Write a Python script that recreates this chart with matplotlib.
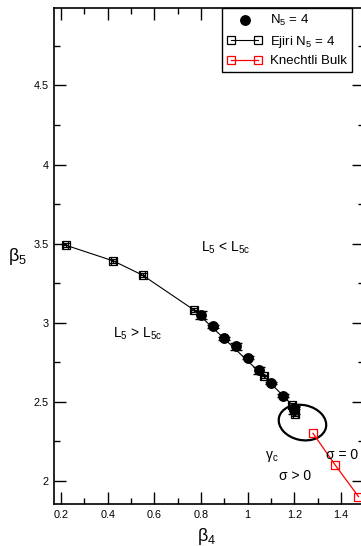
import matplotlib
matplotlib.use("Agg")
import matplotlib.pyplot as plt
from matplotlib.lines import Line2D
from matplotlib.patches import Ellipse
from matplotlib.ticker import MultipleLocator
from matplotlib.transforms import ScaledTranslation
from matplotlib.legend_handler import HandlerLine2D

plt.rcParams['font.family'] = ['Liberation Sans', 'DejaVu Sans']
plt.rcParams['mathtext.fontset'] = 'custom'
plt.rcParams['mathtext.rm'] = 'Liberation Sans'
plt.rcParams['mathtext.it'] = 'Liberation Sans:italic'
plt.rcParams['mathtext.default'] = 'regular'

# N5 = 4 simulation points
n5_beta4 = [0.80, 0.85, 0.90, 0.95, 1.00, 1.05, 1.10, 1.15, 1.20, 1.20]
n5_beta5 = [3.050, 2.977, 2.900, 2.850, 2.778, 2.698, 2.618, 2.538, 2.462, 2.445]
n5_err = [0.024, 0.008, 0.008, 0.023, 0.008, 0.024, 0.008, 0.008, 0.010, 0.021]

# Ejiri N5 = 4 phase boundary
ejiri_beta4 = [0.22, 0.425, 0.55, 0.77, 1.07, 1.19, 1.205]
ejiri_beta5 = [3.49, 3.39, 3.30, 3.08, 2.66, 2.48, 2.42]
ejiri_xerr = [0.012, 0.012, 0.012, 0.012, 0.012, 0.012, 0.012]
ejiri_yerr = [0.012, 0.012, 0.012, 0.012, 0.012, 0.012, 0.012]

# Knechtli bulk transition line
bulk_beta4 = [1.28, 1.375, 1.475]
bulk_beta5 = [2.30, 2.10, 1.90]

W, H = 361, 546
fig = plt.figure(figsize=(W / 100, H / 100), dpi=100)
ax = fig.add_axes([54 / W, (H - 504) / H, (364.3 - 54) / W, (504 - 8) / H])

ax.errorbar(ejiri_beta4, ejiri_beta5, xerr=ejiri_xerr, yerr=ejiri_yerr,
            fmt='s', mfc='none', mec='black', ms=5.5, mew=0.9,
            ecolor='black', elinewidth=0.9, capsize=2.8, ls='-',
            color='black', lw=0.8, zorder=3)

ax.errorbar(n5_beta4, n5_beta5, yerr=n5_err, fmt='o', color='black',
            ms=6.8, ecolor='black', elinewidth=1.0, capsize=4.6,
            capthick=1.0, zorder=4)

ax.plot(bulk_beta4, bulk_beta5, '-s', color='red', mfc='none', mec='red',
        ms=6.0, mew=0.9, lw=0.9, zorder=3)

# critical region around the endpoint
ell = Ellipse((0, 0), 0.48, 0.35, angle=-12, fill=False, ec='black', lw=1.6,
              transform=fig.dpi_scale_trans + ScaledTranslation(1.235, 2.368, ax.transData),
              zorder=2)
ax.add_patch(ell)

txt_kw = dict(fontsize=10, ha='left', va='baseline')
ax.text(0.80, 3.449, 'L$_5$ < L$_{5c}$', **txt_kw)
ax.text(0.423, 2.908, 'L$_5$ > L$_{5c}$', **txt_kw)
ax.text(1.074, 2.135, 'γ$_c$', **txt_kw)
ax.text(1.336, 2.138, 'σ = 0', **txt_kw)
ax.text(1.134, 2.005, 'σ > 0', **txt_kw)

ax.set_xlim(0.17, 1.5)
ax.set_ylim(1.853, 4.99)
ax.xaxis.set_major_locator(MultipleLocator(0.2))
ax.xaxis.set_minor_locator(MultipleLocator(0.1))
ax.yaxis.set_major_locator(MultipleLocator(0.5))
ax.yaxis.set_minor_locator(MultipleLocator(0.25))
ax.xaxis.set_major_formatter(plt.FuncFormatter(lambda v, p: f'{v:g}'))
ax.yaxis.set_major_formatter(plt.FuncFormatter(lambda v, p: f'{v:g}'))
ax.tick_params(which='both', direction='in', top=True, right=True,
               labelsize=7.8, width=1.0, pad=4)
ax.tick_params(which='major', length=8.4)
ax.tick_params(which='minor', length=4.5)
for s in ax.spines.values():
    s.set_linewidth(1.2)

ax.set_xlabel('β$_4$', fontsize=13, va='center')
ax.set_ylabel('β$_5$', fontsize=13, rotation=0, ha='center', va='center')
ax.xaxis.set_label_coords(0.493, -0.0665)
ax.yaxis.set_label_coords(-0.116, 0.498)

handles = [
    Line2D([], [], ls='none', marker='o', color='black', ms=6.8),
    Line2D([], [], ls='-', marker='s', color='black', mfc='none', ms=5.5, lw=0.8, mew=0.9),
    Line2D([], [], ls='-', marker='s', color='red', mfc='none', ms=5.5, lw=0.9, mew=0.9),
]
labels = ['N$_5$ = 4', 'Ejiri N$_5$ = 4', 'Knechtli Bulk']
leg = ax.legend(handles, labels, loc='upper right', bbox_to_anchor=(0.96, 1.0),
                borderaxespad=0, fontsize=9.5, numpoints=2, handlelength=2.6,
                handletextpad=0.6, labelspacing=0.4, borderpad=0.4,
                frameon=True, fancybox=False, edgecolor='black', framealpha=1,
                handler_map={handles[0]: HandlerLine2D(numpoints=1)})
leg.get_frame().set_linewidth(1.0)

fig.savefig('out.png', dpi=100)
